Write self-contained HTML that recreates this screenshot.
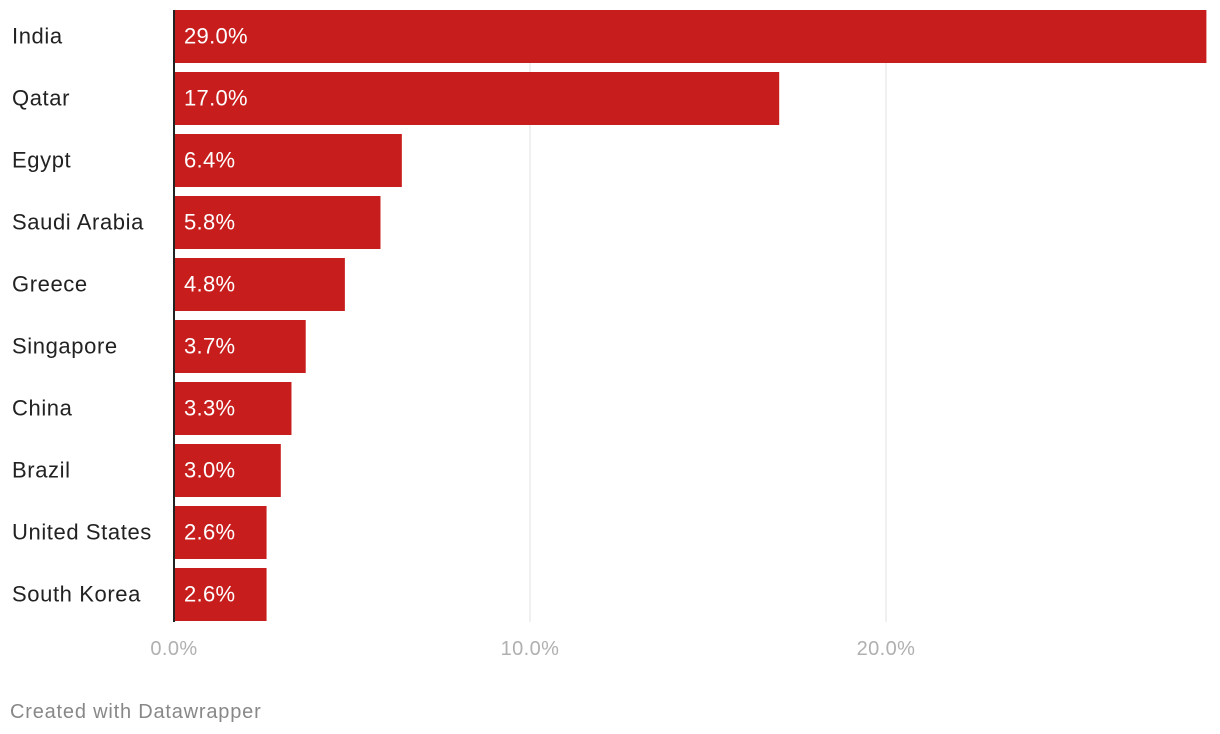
<!DOCTYPE html>
<html><head><meta charset="utf-8">
<style>
body{margin:0;background:#fff;width:1220px;height:734px;overflow:hidden;font-family:"Liberation Sans",sans-serif;}
svg{display:block}
</style></head>
<body>
<svg id="chart" width="1220" height="734"></svg>
<script>
const categories=["India","Qatar","Egypt","Saudi Arabia","Greece","Singapore","China","Brazil","United States","South Korea"];
const values=[29.0,17.0,6.4,5.8,4.8,3.7,3.3,3.0,2.6,2.6];
const ticks=[0,10,20];
const tickLabels=["0.0%","10.0%","20.0%"];
const NS="http://www.w3.org/2000/svg";
const svg=document.getElementById('chart');
const x0=174, pxPer=35.6;
const xs=v=>x0+v*pxPer;
const ys=i=>10+i*62;
const bh=53;
function mk(t,a){const e=document.createElementNS(NS,t);for(const k in a)e.setAttribute(k,a[k]);svg.appendChild(e);return e;}
ticks.forEach((t,i)=>{
  if(t>0){const g=mk('line',{x1:xs(t),x2:xs(t),y1:10,y2:622,stroke:'#e0e0e0','stroke-width':1});
  
  }
  const l=mk('text',{x:xs(t),y:655,'text-anchor':'middle','font-size':20,fill:'#b0b0b0','letter-spacing':'0.4'});
  l.textContent=tickLabels[i];
  
  
});
categories.forEach((c,i)=>{
  const y=ys(i);
  const r=mk('rect',{x:x0,y:y,width:xs(values[i])-x0,height:bh,fill:'#c71e1d'});
  
  
  const n=mk('text',{x:12,y:y+bh/2+7,'font-size':22,fill:'#222','letter-spacing':'0.6'});
  n.textContent=c;
  
  
  const v=mk('text',{x:184,y:y+bh/2+7,'font-size':22,fill:'#fff','letter-spacing':'0.3'});
  v.textContent=values[i].toFixed(1)+'%';
  
  
});
const ax=mk('line',{x1:x0,x2:x0,y1:10,y2:622,stroke:'#222','stroke-width':2});


const f=mk('text',{x:10,y:718,'font-size':20,fill:'#888','letter-spacing':'0.8'});
f.textContent='Created with Datawrapper';


</script>
</body></html>
